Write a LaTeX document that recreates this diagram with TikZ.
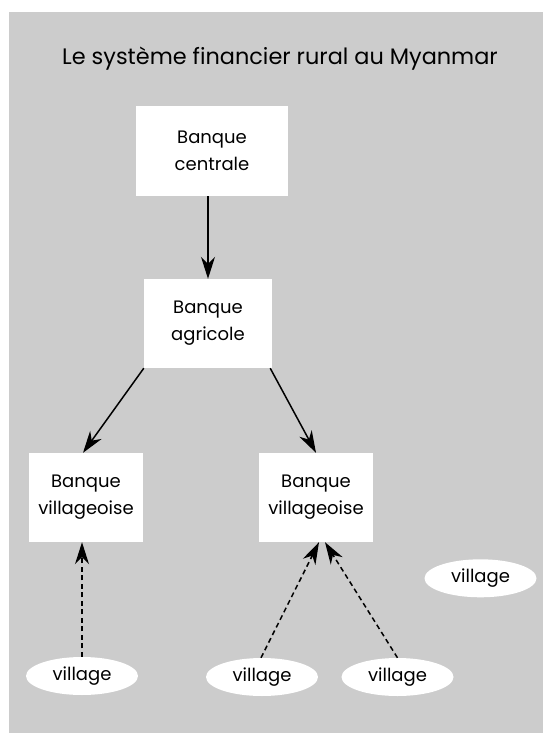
\documentclass[tikz,border=0pt]{standalone}
\usepackage{fontspec}
\setmainfont{Poppins}
\usetikzlibrary{arrows.meta,shapes.geometric}
\definecolor{bggray}{RGB}{204,204,204}
\tikzset{
  bank/.style={fill=white, draw=none, align=center, inner sep=0pt,
    font=\fontsize{18}{27}\selectfont},
  vill/.style={ellipse, fill=white, draw=none, inner sep=0pt,
    minimum width=112pt, minimum height=38pt, font=\fontsize{18}{27}\selectfont},
  sol/.style={line width=1.5pt, -{Stealth[length=22pt,width=14pt,inset=7pt]}},
  dsh/.style={line width=1.5pt, dash pattern=on 5pt off 3.5pt,
    -{Stealth[length=22pt,width=14pt,inset=7pt]}},
}
\begin{document}
\begin{tikzpicture}[x=1pt,y=-1pt]
\useasboundingbox (0,0) rectangle (543,733);
\fill[bggray] (9,12) rectangle (543,733);
\node[anchor=base, font=\fontsize{22.4}{26}\selectfont] (title) at (280,65) {Le système financier rural au Myanmar};
\node[bank, minimum width=152pt, minimum height=90pt] (cent) at (212,151) {Banque\\centrale};
\node[bank, minimum width=128pt, minimum height=89pt] (agri) at (208,323.5) {Banque\\agricole};
\node[bank, minimum width=114pt, minimum height=89pt] (vl) at (86,497.5) {Banque\\villageoise};
\node[bank, minimum width=114pt, minimum height=89pt] (vr) at (316,497.5) {Banque\\villageoise};
\node[vill] (v1) at (82,676) {village};
\node[vill] (v2) at (262,677) {village};
\node[vill] (v3) at (397.5,677) {village};
\node[vill] (v4) at (480.5,578.3) {village};
\draw[sol] (agri.north |- cent.south) -- (agri.north);
\draw[sol] (agri.south west) -- ([xshift=-3pt]vl.north);
\draw[sol] ([xshift=-2pt]agri.south east) -- (vr.north);
\draw[dsh] (v1.north) -- (v1.north |- vl.south);
\draw[dsh] ([xshift=-1pt]v2.north) -- ([xshift=3pt]vr.south);
\draw[dsh] (v3.north) -- ([xshift=9pt]vr.south);
\end{tikzpicture}
\end{document}
